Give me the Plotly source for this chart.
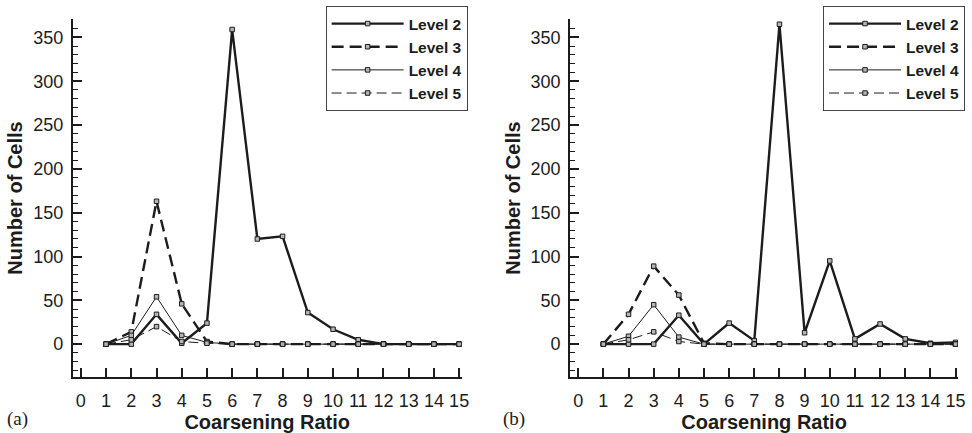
import plotly.graph_objects as go

# Coarsening ratio (x) shared by both panels
ratio = list(range(1, 16))

# Panel (a): number of cells per coarsening ratio
a_level2 = [0, 0, 34, 1, 24, 359, 120, 123, 36, 17, 5, 0, 0, 0, 0]
a_level3 = [0, 14, 163, 46, 3, 0, 0, 0, 0, 0, 0, 0, 0, 0, 0]
a_level4 = [0, 10, 54, 10, 2, 0, 0, 0, 0, 0, 0, 0, 0, 0, 0]
a_level5 = [0, 5, 20, 3, 1, 0, 0, 0, 0, 0, 0, 0, 0, 0, 0]

# Panel (b)
b_level2 = [0, 0, 0, 33, 0, 24, 4, 365, 13, 95, 6, 23, 6, 1, 2]
b_level3 = [0, 34, 89, 56, 1, 0, 0, 0, 0, 0, 0, 0, 0, 0, 0]
b_level4 = [0, 9, 45, 8, 0, 0, 0, 0, 0, 0, 0, 0, 0, 0, 0]
b_level5 = [0, 5, 14, 3, 0, 0, 0, 0, 0, 0, 0, 0, 0, 0, 0]

level_names = ["Level 2", "Level 3", "Level 4", "Level 5"]
panel_labels = ["(a)", "(b)"]

INK = "#1c1c1c"
styles = [
    dict(width=2.4, dash="solid"),
    dict(width=2.4, dash="12px,6px"),
    dict(width=1.0, dash="solid"),
    dict(width=1.0, dash="10px,5px"),
]

fig = go.Figure()

panels = [
    ("x", "y", "legend", [a_level2, a_level3, a_level4, a_level5]),
    ("x2", "y2", "legend2", [b_level2, b_level3, b_level4, b_level5]),
]
for xa, ya, leg, series in panels:
    for name, vals, st in zip(level_names, series, styles):
        fig.add_trace(go.Scatter(
            x=ratio, y=vals, name=name, mode="lines+markers",
            xaxis=xa, yaxis=ya, legend=leg,
            line=dict(color=INK, width=st["width"], dash=st["dash"]),
            marker=dict(symbol="square", size=4.5, color="#b5b5b5",
                        line=dict(color=INK, width=1)),
        ))

W, H = 972, 433
tick_font = dict(family="Liberation Sans, Arial", size=18, color=INK)
title_font = dict(family="Liberation Sans, Arial", size=20, color=INK, weight="bold")

def xaxis_cfg(x0, x1, anchor):
    return dict(
        domain=[x0 / W, x1 / W], anchor=anchor,
        range=[-0.32, 15.1], tick0=0, dtick=1,
        showgrid=False, zeroline=False,
        showline=True, linecolor=INK, linewidth=2,
        ticks="inside", ticklen=9, tickwidth=1.5, tickcolor=INK,
        tickfont=tick_font, ticklabelstandoff=6,
        title=dict(text="Coarsening Ratio", font=title_font, standoff=5),
    )

def yaxis_cfg(anchor):
    return dict(
        domain=[(H - 377) / H, (H - 19) / H], anchor=anchor,
        range=[-37.5, 371], tick0=0, dtick=50,
        showgrid=False, zeroline=False,
        showline=True, linecolor=INK, linewidth=2,
        ticks="inside", ticklen=9, tickwidth=1.5, tickcolor=INK,
        minor=dict(tickmode="linear", tick0=0, dtick=10, ticks="inside",
                   ticklen=5, tickwidth=1.2, tickcolor=INK),
        tickfont=tick_font, ticklabelstandoff=4,
        title=dict(text="Number of Cells", font=title_font, standoff=5),
    )

legend_cfg = dict(
    yanchor="top", xanchor="left",
    bgcolor="white", bordercolor="#444", borderwidth=1,
    font=dict(family="Liberation Sans, Arial", size=15.5, color=INK, weight="bold"),
    tracegroupgap=0, itemwidth=72,
)

fig.update_layout(
    width=W, height=H,
    margin=dict(l=0, r=0, t=0, b=0),
    paper_bgcolor="white", plot_bgcolor="white",
    xaxis=xaxis_cfg(73.3, 465, "y"),
    yaxis=yaxis_cfg("x"),
    xaxis2=xaxis_cfg(574.3, 965, "y2"),
    yaxis2=yaxis_cfg("x2"),
    legend=dict(x=328 / W, y=(H - 6) / H, **legend_cfg),
    legend2=dict(x=829 / W, y=(H - 6) / H, **legend_cfg),
)

for label, xpx in zip(panel_labels, [5, 505]):
    fig.add_annotation(
        text=label, xref="paper", yref="paper",
        x=xpx / W, y=(H - 419) / H, xanchor="left", yanchor="middle",
        showarrow=False,
        font=dict(family="Liberation Serif, Times New Roman", size=19, color=INK),
    )

fig.write_html("out.html")
